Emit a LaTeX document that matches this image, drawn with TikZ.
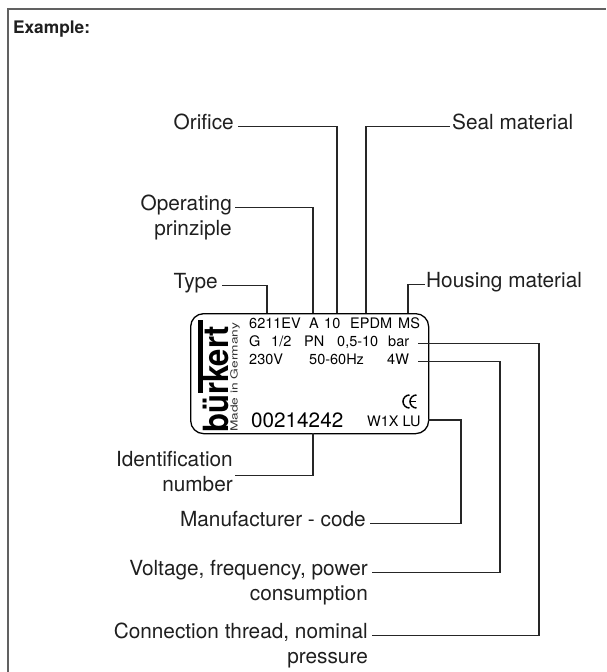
\documentclass[tikz,border=0pt]{standalone}
\usepackage{fontspec}
\setmainfont{TeX Gyre Heros}
\begin{document}
\begin{tikzpicture}[x=1pt,y=-1pt,
  lbl/.style={inner sep=0pt, font=\fontsize{20.8}{25}\selectfont, text=black!88},
  plt/.style={inner sep=0pt, font=\fontsize{14.5}{16}\selectfont, anchor=base west},
  conn/.style={line width=1.2pt, black!85},
  frameline/.style={line width=2pt, black!62}]
\useasboundingbox (0,0) rectangle (606,672);
% frame
\draw[frameline] (8,672) -- (8,8.5) -- (606,8.5);
\node[anchor=base west, inner sep=0pt, text=black!88, font=\bfseries\fontsize{17.3}{20}\selectfont] (ex) at (13,33) {Example:};

% plate
\node[draw, rounded corners=13pt, line width=1.3pt, minimum width=238pt, minimum height=120pt, inner sep=0pt, anchor=north west] (plate) at (190,313) {};
% logo
\fill (198,320) rectangle (202.5,393);
\node[rotate=90, anchor=base west, inner sep=0pt, font=\bfseries\fontsize{31}{31}\selectfont] (logo) at (228,433) {\scalebox{1}[1.12]{bürkert}};
\node[rotate=90, anchor=base west, inner sep=0pt, text=black!80, font=\fontsize{9.8}{10}\selectfont] (made) at (237.5,432) {\scalebox{1.4}[1]{Made in Germany}};
% row 1
\node[plt] (r1a) at (249,328.3) {6211EV};
\node[plt] (r1b) at (309,328.3) {A};
\node[plt] (r1c) at (324,328.3) {10};
\node[plt] (r1d) at (350,328.3) {EPDM};
\node[plt] (r1e) at (398,328.3) {MS};
% row 2
\node[plt] (r2a) at (249,346) {G};
\node[plt] (r2b) at (271,346) {1/2};
\node[plt] (r2c) at (304,346) {PN};
\node[plt] (r2d) at (337,346) {0,5-10};
\node[plt] (r2e) at (388,346) {bar};
% row 3
\node[plt] (r3a) at (249,364) {230V};
\node[plt] (r3b) at (309,364) {50-60Hz};
\node[plt] (r3c) at (387,364) {4W};
% CE
\draw[line width=1.5pt] (409.5,395) arc[start angle=-90, end angle=-270, radius=6.5];
\draw[line width=1.5pt] (416.5,395) arc[start angle=-90, end angle=-270, radius=6.5];
\draw[line width=1.4pt] (410,401.5) -- (415.5,401.5);
\node[plt] (wlu) at (367,426) {W1X LU};
\node[inner sep=0pt, anchor=base west, font=\fontsize{20.7}{22}\selectfont] (ident) at (251,427) {00214242};

% labels
\node[lbl, anchor=base east] (orif) at (234,129) {Orifice};
\node[lbl, anchor=base west] (seal) at (452,129) {Seal material};
\node[lbl, anchor=base east] (oper1) at (232,210) {Operating};
\node[lbl, anchor=base east] (oper2) at (232,235) {prinziple};
\node[lbl, anchor=base east] (type) at (218,288) {Type};
\node[lbl, anchor=base west] (hous) at (426,287) {Housing material};
\node[lbl, anchor=base east] (idl1) at (233,466) {Identification};
\node[lbl, anchor=base east] (idl2) at (233,491) {number};
\node[lbl, anchor=base east] (man) at (366,526) {Manufacturer - code};
\node[lbl, anchor=base east] (volt1) at (368,575) {Voltage, frequency, power};
\node[lbl, anchor=base east] (volt2) at (368,600) {consumption};
\node[lbl, anchor=base east] (con1) at (368,638) {Connection thread, nominal};
\node[lbl, anchor=base east] (con2) at (368,663) {pressure};

% attachment points
\coordinate (pType) at (267,313);
\coordinate (pOper) at (313,313);
\coordinate (pOrif) at (337,313);
\coordinate (pSeal) at (366,313);
\coordinate (pHous) at (408,313);
\coordinate (pIdent) at (313,433);
\coordinate (pMan) at (428,420);
\coordinate (xMan) at (461,0);
\coordinate (xVolt) at (500,0);
\coordinate (xCon) at (539,0);

\draw[conn] ([xshift=4pt]type.mid east) -| (pType);
\draw[conn] ([xshift=3pt]oper1.mid east) -| (pOper);
\draw[conn] ([xshift=4pt]orif.mid east) -| (pOrif);
\draw[conn] (pSeal) |- ([xshift=-2pt]seal.mid west);
\draw[conn] (pHous) |- ([xshift=-1.5pt]hous.mid west);
\draw[conn] (pIdent) |- ([xshift=2pt]idl2.north east);
\draw[conn] (pMan) -| (man.mid east -| xMan) -- ([xshift=4pt]man.mid east);
\draw[conn] ([xshift=9pt]r3c.mid east) -| (volt1.mid east -| xVolt) -- ([xshift=4pt]volt1.mid east);
\draw[conn] ([xshift=9pt]r2e.mid east) -| (con1.mid east -| xCon) -- ([xshift=4pt]con1.mid east);
\end{tikzpicture}
\end{document}
